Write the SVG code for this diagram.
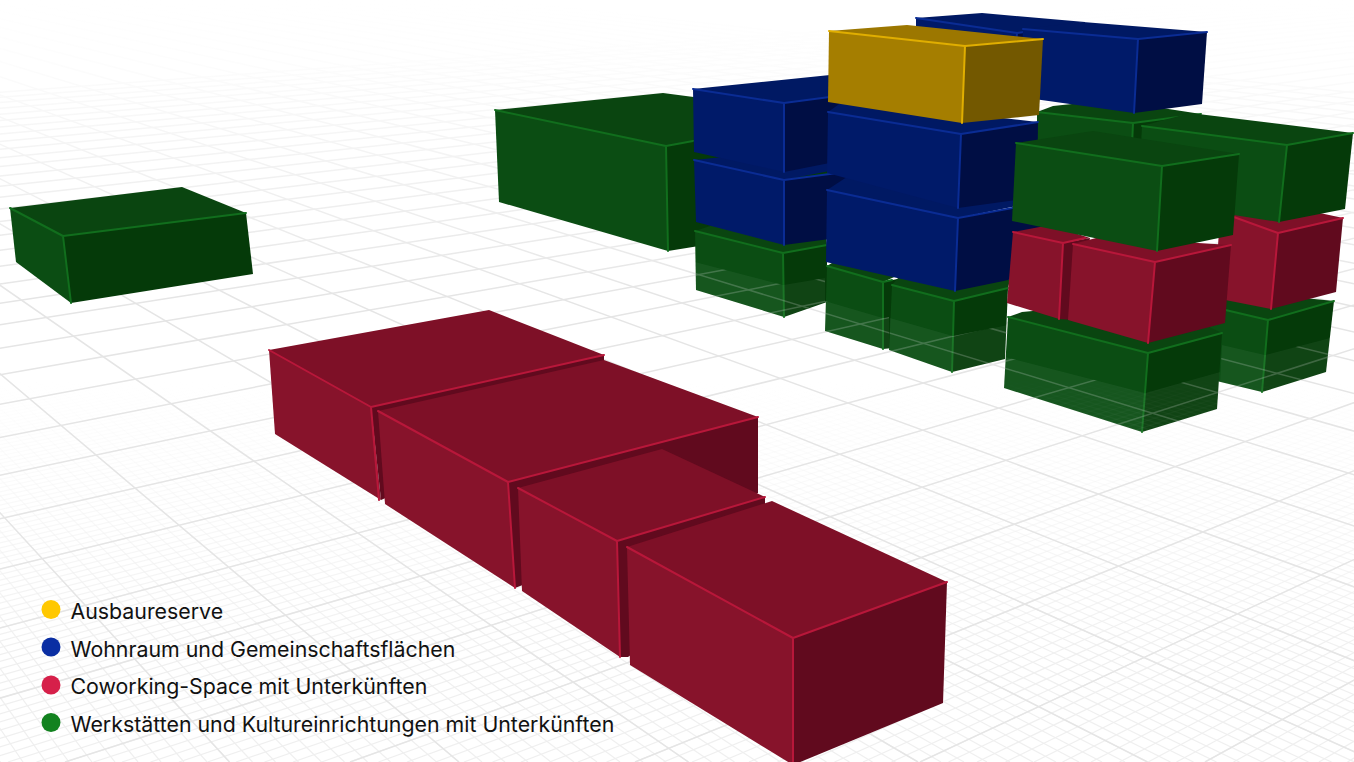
<svg xmlns="http://www.w3.org/2000/svg" xmlns:xlink="http://www.w3.org/1999/xlink" width="1354" height="762" viewBox="0 0 1354 762">
<style>
.major{fill:none;stroke:#e5e5e5;stroke-width:1.5}
.minor{fill:none;stroke:url(#minorFade);stroke-width:1.2}
.e{fill:none;stroke-width:2;stroke-linejoin:round;stroke-linecap:round}
.red .t{fill:#7e1027}.red .l{fill:#87132b}.red .r{fill:#610a1e}.red .e{stroke:#b8173a}
.green .t{fill:#0a4510}.green .l{fill:#0b4d13}.green .r{fill:#053a09}.green .e{stroke:#116e1d}
.blue .t{fill:#001963}.blue .l{fill:#001a69}.blue .r{fill:#000e44}.blue .e{stroke:#0a2c94}
.yellow .t{fill:#9c7700}.yellow .l{fill:#a57e00}.yellow .r{fill:#735800}.yellow .e{stroke:#e0ae00}
.lab{font:21.33px Inter,"Liberation Sans",sans-serif;fill:#111}
</style>
<defs>
<linearGradient id="minorFade" gradientUnits="userSpaceOnUse" x1="0" y1="380" x2="0" y2="660"><stop offset="0" stop-color="#f3f3f3" stop-opacity="0"/><stop offset="1" stop-color="#efefef"/></linearGradient>
<linearGradient id="topFade" x1="0" y1="0" x2="0" y2="1"><stop offset="0" stop-color="#fff"/><stop offset=".2" stop-color="#fff" stop-opacity=".93"/><stop offset="1" stop-color="#fff" stop-opacity="0"/></linearGradient>
<g id="grid">
<path class="minor" d="M2800-115L-2215 762M2800-115L-2186.5 762M2800-115L-2158 762M2800-115L-2129.5 762M2800-115L-2101 762M2800-115L-2072.5 762M2800-115L-2044 762M2800-115L-2015.5 762M2800-115L-1987 762M2800-115L-1958.5 762M2800-115L-1930 762M2800-115L-1901.5 762M2800-115L-1873 762M2800-115L-1844.5 762M2800-115L-1816 762M2800-115L-1787.5 762M2800-115L-1759 762M2800-115L-1730.5 762M2800-115L-1702 762M2800-115L-1673.5 762M2800-115L-1645 762M2800-115L-1616.5 762M2800-115L-1588 762M2800-115L-1559.5 762M2800-115L-1531 762M2800-115L-1502.5 762M2800-115L-1474 762M2800-115L-1445.5 762M2800-115L-1417 762M2800-115L-1388.5 762M2800-115L-1360 762M2800-115L-1331.5 762M2800-115L-1303 762M2800-115L-1274.5 762M2800-115L-1246 762M2800-115L-1217.5 762M2800-115L-1189 762M2800-115L-1160.5 762M2800-115L-1132 762M2800-115L-1103.5 762M2800-115L-1075 762M2800-115L-1046.5 762M2800-115L-1018 762M2800-115L-989.5 762M2800-115L-961 762M2800-115L-932.5 762M2800-115L-904 762M2800-115L-875.5 762M2800-115L-847 762M2800-115L-818.5 762M2800-115L-790 762M2800-115L-761.5 762M2800-115L-733 762M2800-115L-704.5 762M2800-115L-676 762M2800-115L-647.5 762M2800-115L-619 762M2800-115L-590.5 762M2800-115L-562 762M2800-115L-533.5 762M2800-115L-505 762M2800-115L-476.5 762M2800-115L-448 762M2800-115L-419.5 762M2800-115L-391 762M2800-115L-362.5 762M2800-115L-334 762M2800-115L-305.5 762M2800-115L-277 762M2800-115L-248.5 762M2800-115L-220 762M2800-115L-191.5 762M2800-115L-163 762M2800-115L-134.5 762M2800-115L-106 762M2800-115L-77.5 762M2800-115L-49 762M2800-115L-20.5 762M2800-115L8 762M2800-115L36.5 762M2800-115L65 762M2800-115L93.5 762M2800-115L122 762M2800-115L150.5 762M2800-115L179 762M2800-115L207.5 762M2800-115L236 762M2800-115L264.5 762M2800-115L293 762M2800-115L321.5 762M2800-115L350 762M2800-115L378.5 762M2800-115L407 762M2800-115L435.5 762M2800-115L464 762M2800-115L492.5 762M2800-115L521 762M2800-115L549.5 762M2800-115L578 762M2800-115L606.5 762M2800-115L635 762M2800-115L663.5 762M2800-115L692 762M2800-115L720.5 762M2800-115L749 762M2800-115L777.5 762M2800-115L806 762M2800-115L834.5 762M2800-115L863 762M2800-115L891.5 762M2800-115L920 762M2800-115L948.5 762M2800-115L977 762M2800-115L1005.5 762M2800-115L1034 762M2800-115L1062.5 762M2800-115L1091 762M2800-115L1119.5 762M2800-115L1148 762M2800-115L1176.5 762M2800-115L1205 762M2800-115L1233.5 762M2800-115L1262 762M2800-115L1290.5 762M2800-115L1319 762M2800-115L1347.5 762"/>
<path class="minor" d="M-578-115L0 762M-578-115L23 762M-578-115L46 762M-578-115L69 762M-578-115L92 762M-578-115L115 762M-578-115L138 762M-578-115L161 762M-578-115L184 762M-578-115L207 762M-578-115L229.5 762M-578-115L252.5 762M-578-115L275.5 762M-578-115L298.5 762M-578-115L321.5 762M-578-115L344.5 762M-578-115L367.5 762M-578-115L390.5 762M-578-115L413.5 762M-578-115L436.5 762M-578-115L459 762M-578-115L482 762M-578-115L505 762M-578-115L528 762M-578-115L551 762M-578-115L574 762M-578-115L597 762M-578-115L620 762M-578-115L643 762M-578-115L666 762M-578-115L688.5 762M-578-115L711.5 762M-578-115L734.5 762M-578-115L757.5 762M-578-115L780.5 762M-578-115L803.5 762M-578-115L826.5 762M-578-115L849.5 762M-578-115L872.5 762M-578-115L895.5 762M-578-115L918 762M-578-115L941 762M-578-115L964 762M-578-115L987 762M-578-115L1010 762M-578-115L1033 762M-578-115L1056 762M-578-115L1079 762M-578-115L1102 762M-578-115L1125 762M-578-115L1147.5 762M-578-115L1170.5 762M-578-115L1193.5 762M-578-115L1216.5 762M-578-115L1239.5 762M-578-115L1262.5 762M-578-115L1285.5 762M-578-115L1308.5 762M-578-115L1331.5 762M-578-115L1354.5 762M-578-115L1377 762M-578-115L1400 762M-578-115L1423 762M-578-115L1446 762M-578-115L1469 762M-578-115L1492 762M-578-115L1515 762M-578-115L1538 762M-578-115L1561 762M-578-115L1584 762M-578-115L1606.5 762M-578-115L1629.5 762M-578-115L1652.5 762M-578-115L1675.5 762M-578-115L1698.5 762M-578-115L1721.5 762M-578-115L1744.5 762M-578-115L1767.5 762M-578-115L1790.5 762M-578-115L1813.5 762M-578-115L1836 762M-578-115L1859 762M-578-115L1882 762M-578-115L1905 762M-578-115L1928 762M-578-115L1951 762M-578-115L1974 762M-578-115L1997 762M-578-115L2020 762M-578-115L2043 762M-578-115L2065.5 762M-578-115L2088.5 762M-578-115L2111.5 762M-578-115L2134.5 762M-578-115L2157.5 762M-578-115L2180.5 762M-578-115L2203.5 762M-578-115L2226.5 762M-578-115L2249.5 762M-578-115L2272.5 762M-578-115L2295 762M-578-115L2318 762M-578-115L2341 762M-578-115L2364 762M-578-115L2387 762M-578-115L2410 762M-578-115L2433 762M-578-115L2456 762M-578-115L2479 762M-578-115L2502 762M-578-115L2524.5 762M-578-115L2547.5 762M-578-115L2570.5 762M-578-115L2593.5 762M-578-115L2616.5 762M-578-115L2639.5 762M-578-115L2662.5 762M-578-115L2685.5 762M-578-115L2708.5 762M-578-115L2731.5 762M-578-115L2754 762"/>
<path class="major" d="M2800-115L1205 762M2800-115L920 762M2800-115L635 762M2800-115L350 762M2800-115L65 762M2800-115L-220 762M2800-115L-505 762M2800-115L-790 762M2800-115L-1075 762M2800-115L-1360 762M2800-115L-1645 762M2800-115L-1930 762M2800-115L-2215 762M2800-115L-2500 762M2800-115L-2785 762M2800-115L-3070 762M2800-115L-3355 762M2800-115L-3640 762M2800-115L-3925 762M2800-115L-4210 762M2800-115L-4495 762M2800-115L-4780 762M2800-115L-5065 762M2800-115L-5350 762M2800-115L-5635 762M2800-115L-5920 762M2800-115L-6205 762M2800-115L-6490 762M2800-115L-6775 762M2800-115L-7060 762M2800-115L-7345 762M2800-115L-7630 762M2800-115L-7915 762M2800-115L-8200 762M2800-115L-8485 762M2800-115L-8770 762M2800-115L-9055 762"/>
<path class="major" d="M-578-115L0 762M-578-115L229.5 762M-578-115L459 762M-578-115L688.5 762M-578-115L918 762M-578-115L1147.5 762M-578-115L1377 762M-578-115L1606.5 762M-578-115L1836 762M-578-115L2065.5 762M-578-115L2295 762M-578-115L2524.5 762M-578-115L2754 762M-578-115L2983.5 762M-578-115L3213 762M-578-115L3442.5 762M-578-115L3672 762M-578-115L3901.5 762M-578-115L4131 762M-578-115L4360.5 762M-578-115L4590 762M-578-115L4819.5 762M-578-115L5049 762M-578-115L5278.5 762M-578-115L5508 762M-578-115L5737.5 762M-578-115L5967 762M-578-115L6196.5 762M-578-115L6426 762M-578-115L6655.5 762M-578-115L6885 762M-578-115L7114.5 762M-578-115L7344 762M-578-115L7573.5 762"/>
</g>
<clipPath id="sunk">
<polygon points="695,262 783,285 825,278 825,302 784,317 696,290"/>
<polygon points="825,301 883,318 889,317 889,348 883,349 825,331"/>
<polygon points="890,318 953,336 1008,325 1005,359 952,372 889,350"/>
<polygon points="1005,357 1145,393 1220,372 1217,409 1142,432 1004,388"/>
<polygon points="1222,345 1265,355 1330,338 1326,372 1262,392 1220,382"/>
</clipPath>
</defs>
<rect id="ground" width="1354" height="762" fill="#fff"/>
<use href="#grid"/>
<rect id="horizon-fade" width="1354" height="300" fill="url(#topFade)"/>

<g id="block-green-far-left" class="green"><polygon class="t" points="10,208 182,187 246,213 63,236"/><polygon class="l" points="10,208 63,236 71,303 16,262"/><polygon class="r" points="63,236 246,213 253,274 71,303"/><path class="e" d="M10,208L63,236L246,213M63,236L71,303"/></g>
<g id="block-green-large" class="green"><polygon class="t" points="495,110 663,93 830,115 666,146"/><polygon class="l" points="495,110 666,146 668,251 499,202"/><polygon class="r" points="666,146 830,115 830,225 668,251"/><path class="e" d="M495,110L666,146L693,141M666,146L668,251"/></g>
<g id="block-green-back" class="green"><polygon class="t" points="1037,112 1053,106 1110,100 1201,114 1133,123"/><polygon class="l" points="1037,112 1133,123 1132,145 1037,140"/><polygon class="r" points="1133,123 1201,114 1201,135 1132,145"/><path class="e" d="M1037,112L1133,123L1201,114M1133,123L1132,145"/></g>
<g id="block-blue-far" class="blue"><polygon class="t" points="916,18 982,13 1085,22 1017,33"/><polygon class="l" points="916,18 1017,33 1015,60 916,50"/><polygon class="r" points="1017,33 1085,22 1085,60 1015,60"/><path class="e" d="M916,18L1017,33L1085,24M1017,33L1015,60"/></g>
<g id="block-blue-right" class="blue"><polygon class="t" points="1023,29 1083,22 1207,32 1138,39"/><polygon class="l" points="1023,29 1138,39 1134,113 1020,97"/><polygon class="r" points="1138,39 1207,32 1202,104 1134,113"/><path class="e" d="M1023,29L1138,39L1207,32M1138,39L1134,113"/></g>
<g id="block-green-stack1" class="green"><polygon class="t" points="695,231 710,226 825,226 827,245 783,253"/><polygon class="l" points="695,231 783,253 784,317 696,290"/><polygon class="r" points="783,253 827,245 827,302 784,317"/><path class="e" d="M695,231L783,253L827,245M783,253L784,317"/></g>
<g id="block-blue-stack1-lower" class="blue"><polygon class="t" points="694,160 810,148 860,165 784,180"/><polygon class="l" points="694,160 784,180 784,245 696,222"/><polygon class="r" points="784,180 860,170 860,235 784,245"/><path class="e" d="M694,160L784,180L860,170M784,180L784,245"/></g>
<g id="block-blue-stack1-upper" class="blue"><polygon class="t" points="693,89 830,75 880,90 784,103"/><polygon class="l" points="693,89 784,103 784,172 694,152"/><polygon class="r" points="784,103 860,93 860,157 784,172"/><path class="e" d="M693,89L784,103L860,93M784,103L784,172"/></g>
<g id="block-green-stack2a" class="green"><polygon class="t" points="827,266 845,255 910,270 883,282"/><polygon class="l" points="827,266 883,282 883,349 825,331"/><polygon class="r" points="883,282 902,278 902,347 883,349"/><path class="e" d="M827,266L883,282L892,280M883,282L883,349"/></g>
<g id="block-green-stack2b" class="green"><polygon class="t" points="892,285 905,270 1010,280 1008,288 954,301"/><polygon class="l" points="892,285 954,301 952,372 889,350"/><polygon class="r" points="954,301 1008,288 1005,359 952,372"/><path class="e" d="M892,285L954,301L1008,288M954,301L952,372"/></g>
<g id="block-blue-stack2-lower" class="blue"><polygon class="t" points="827,190 850,175 1070,195 958,218"/><polygon class="l" points="827,190 958,218 955,291 826,262"/><polygon class="r" points="958,218 1070,198 1067,268 955,291"/><path class="e" d="M827,190L958,218L1040,203M958,218L955,291"/></g>
<g id="block-blue-stack2-upper" class="blue"><polygon class="t" points="828,112 845,100 1038,122 961,134"/><polygon class="l" points="828,112 961,134 958,208 827,173"/><polygon class="r" points="961,134 1038,122 1037,197 958,208"/><path class="e" d="M828,112L961,134L1038,122M961,134L958,208"/></g>
<g id="block-yellow" class="yellow"><polygon class="t" points="829,31 907,25 1043,39 965,46"/><polygon class="l" points="829,31 965,46 962,123 828,102"/><polygon class="r" points="965,46 1043,39 1039,115 962,123"/><path class="e" d="M829,31L965,46L1043,39M965,46L962,123"/></g>
<g id="block-green-right-lower" class="green"><polygon class="t" points="1200,304 1227,290 1334,301 1268,320"/><polygon class="l" points="1200,304 1268,320 1262,392 1200,377"/><polygon class="r" points="1268,320 1334,301 1326,372 1262,392"/><path class="e" d="M1200,304L1268,320L1334,301M1268,320L1262,392"/></g>
<g id="block-red-right" class="red"><polygon class="t" points="1220,212 1260,200 1343,218 1278,233"/><polygon class="l" points="1220,212 1278,233 1271,309 1215,298"/><polygon class="r" points="1278,233 1343,218 1336,292 1271,309"/><path class="e" d="M1220,212L1278,233L1343,218M1278,233L1271,309"/></g>
<g id="block-green-right" class="green"><polygon class="t" points="1142,126 1190,113 1353,133 1287,145"/><polygon class="l" points="1142,126 1287,145 1279,222 1138,200"/><polygon class="r" points="1287,145 1353,133 1345,209 1279,222"/><path class="e" d="M1142,126L1287,145L1353,133M1287,145L1279,222"/></g>
<g id="block-green-front-lower" class="green"><polygon class="t" points="1008,317 1022,312 1150,300 1222,333 1148,353"/><polygon class="l" points="1008,317 1148,353 1142,432 1004,388"/><polygon class="r" points="1148,353 1222,333 1217,409 1142,432"/><path class="e" d="M1008,317L1148,353L1222,333M1148,353L1142,432"/></g>
<g id="block-red-front-a" class="red"><polygon class="t" points="1013,232 1050,225 1090,238 1063,243"/><polygon class="l" points="1013,232 1063,243 1059,319 1007,303"/><polygon class="r" points="1063,243 1090,238 1075,320 1059,319"/><path class="e" d="M1013,232L1063,243L1085,238M1063,243L1059,319"/></g>
<g id="block-red-front-b" class="red"><polygon class="t" points="1073,244 1100,237 1231,245 1155,262"/><polygon class="l" points="1073,244 1155,262 1148,343 1068,320"/><polygon class="r" points="1155,262 1231,245 1225,323 1148,343"/><path class="e" d="M1073,244L1155,262L1231,245M1155,262L1148,343"/></g>
<g id="block-green-front-top" class="green"><polygon class="t" points="1016,143 1093,131 1239,154 1162,166"/><polygon class="l" points="1016,143 1162,166 1157,251 1012,221"/><polygon class="r" points="1162,166 1239,154 1233,235 1157,251"/><path class="e" d="M1016,143L1162,166L1239,154M1162,166L1157,251"/></g>
<g id="sunk-ground">
<g clip-path="url(#sunk)"><rect x="690" y="255" width="650" height="180" fill="#fff" opacity=".05"/><use href="#grid" opacity=".22"/></g>
</g>

<g id="block-red-a" class="red"><polygon class="t" points="269,350 489,310 604,355 371,407"/><polygon class="l" points="269,350 371,407 381,500 275,434"/><polygon class="r" points="371,407 604,355 604,400 381,500"/><path class="e" d="M269,350L371,407L604,355M371,407L379,500"/></g>
<g id="block-red-b" class="red"><polygon class="t" points="378,411 604,360 758,417 508,482"/><polygon class="l" points="378,411 508,482 515,588 385,504"/><polygon class="r" points="508,482 758,417 758,493 515,588"/><path class="e" d="M378,411L508,482L758,417M508,482L515,588"/></g>
<g id="block-red-c" class="red"><polygon class="t" points="518,488 662,449 765,497 617,541"/><polygon class="l" points="518,488 617,541 620,657 522,591"/><polygon class="r" points="617,541 765,497 765,560 628,657 620,657"/><path class="e" d="M518,488L617,541L765,497M617,541L620,657"/></g>
<g id="block-red-d" class="red"><polygon class="t" points="627,547 772,501 947,582 793,638"/><polygon class="l" points="627,547 793,638 793,765 630,665"/><polygon class="r" points="793,638 947,582 943,703 793,765"/><path class="e" d="M627,547L793,638L947,582M793,638L793,765"/></g>

<g id="legend">
<circle cx="51" cy="609.5" r="9.5" fill="#ffc800"/><text class="lab" x="70.5" y="618.7">Ausbaureserve</text>
<circle cx="51" cy="647" r="9.5" fill="#0a2ea3"/><text class="lab" x="70.5" y="656.7">Wohnraum und Gemeinschaftsflächen</text>
<circle cx="51" cy="685" r="9.5" fill="#d6204a"/><text class="lab" x="70.5" y="694.4">Coworking-Space mit Unterkünften</text>
<circle cx="51" cy="722.5" r="9.5" fill="#12821f"/><text class="lab" x="70.5" y="731.7">Werkstätten und Kultureinrichtungen mit Unterkünften</text>
</g>
</svg>
